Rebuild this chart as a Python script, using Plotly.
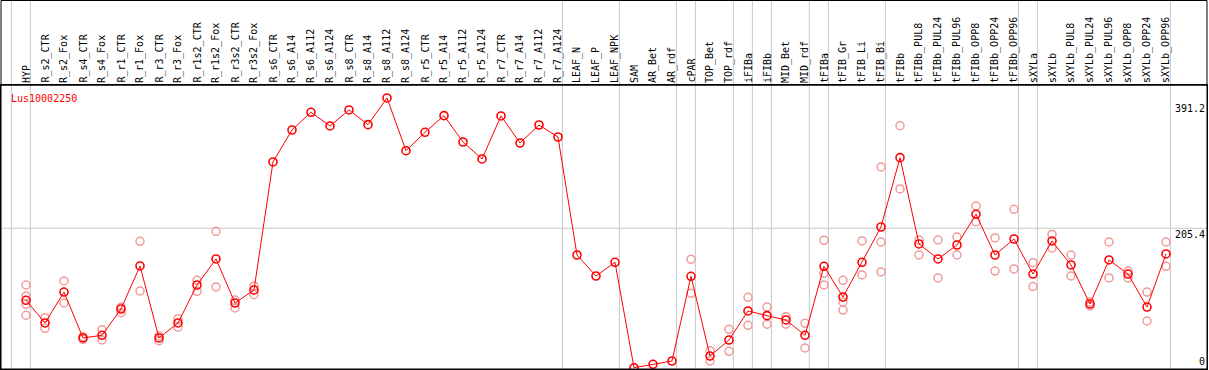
import plotly.graph_objects as go

categories = ["HYP", "R_s2_CTR", "R_s2_Fox", "R_s4_CTR", "R_s4_Fox", "R_r1_CTR", "R_r1_Fox",
              "R_r3_CTR", "R_r3_Fox", "R_r1s2_CTR", "R_r1s2_Fox", "R_r3s2_CTR", "R_r3s2_Fox",
              "R_s6_CTR", "R_s6_A14", "R_s6_A112", "R_s6_A124", "R_s8_CTR", "R_s8_A14",
              "R_s8_A112", "R_s8_A124", "R_r5_CTR", "R_r5_A14", "R_r5_A112", "R_r5_A124",
              "R_r7_CTR", "R_r7_A14", "R_r7_A112", "R_r7_A124", "LEAF_N", "LEAF_P", "LEAF_NPK",
              "SAM", "AR_Bet", "AR_rdf", "cPAR", "TOP_Bet", "TOP_rdf", "iFIBa", "iFIBb",
              "MID_Bet", "MID_rdf", "tFIBa", "tFIB_Gr", "tFIB_Li", "tFIB_Bi", "tFIBb",
              "tFIBb_PUL8", "tFIBb_PUL24", "tFIBb_PUL96", "tFIBb_OPP8", "tFIBb_OPP24",
              "tFIBb_OPP96", "sXYLa", "sXYLb", "sXYLb_PUL8", "sXYLb_PUL24", "sXYLb_PUL96",
              "sXYLb_OPP8", "sXYLb_OPP24", "sXYLb_OPP96"]

mean_values = [99.8, 66.5, 111.9, 44.5, 48.4, 87.0, 150.1, 44.5, 66.5, 122.2, 160.4, 95.8, 114.9,
               302.7, 349.6, 375.6, 355.5, 379.0, 357.4, 396.6, 319.2, 346.2, 370.6, 332.0, 307.1,
               370.2, 330.5, 356.9, 339.3, 166.2, 135.4, 155.5,
               0.9, 5.9, 10.7, 135.0, 18.0, 41.5, 84.1, 77.2, 70.9, 48.4, 149.6, 104.6, 155.5,
               207.3, 309.0, 182.4, 160.4, 180.9, 225.9, 166.2, 189.7, 138.3, 186.8, 151.6,
               94.3, 158.9, 138.3, 89.9, 167.7]

replicate_values = [
    [122.2, 106.1, 93.9, 77.8], [74.2, 58.7], [128.1, 95.8], [46.4, 42.5], [56.6, 41.5],
    [89.5, 81.6], [186.3, 113.4], [47.4, 40.5], [72.8, 60.2], [129.1, 113.0], [201.0, 119.3],
    [100.2, 88.5], [120.7, 108.0],
    [], [], [], [], [], [], [], [], [], [], [], [], [], [], [], [], [], [], [],
    [], [], [], [159.9, 110.0], [25.8, 10.7], [57.2, 24.9], [104.2, 63.1], [89.9, 64.6],
    [75.7, 64.6], [66.0, 29.8], [187.8, 139.4, 122.2], [129.1, 97.3, 85.5], [186.8, 136.9],
    [295.3, 185.3, 141.3], [355.9, 263.1], [188.2, 166.2], [188.2, 132.5], [192.6, 166.2],
    [238.1, 215.1], [191.2, 142.7], [233.3, 145.7], [155.0, 120.0], [196.4, 176.5],
    [166.2, 135.4], [97.3, 91.4], [185.3, 132.5], [142.7, 132.5], [111.9, 69.4], [185.3, 149.6]
]

group_starts = [0, 1, 29, 32, 35, 36, 38, 39, 40, 42, 43, 46, 53, 54, 61]
ytick_values = [0, 205.4, 391.2]
ytick_labels = ["0", "205.4", "391.2"]
gene_name = "Lus10002250"

FONT = "DejaVu Sans Mono"
xs = list(range(len(categories)))

rep_x, rep_y = [], []
for i, reps in enumerate(replicate_values):
    for v in reps:
        rep_x.append(i)
        rep_y.append(v)

fig = go.Figure()
fig.add_trace(go.Scatter(
    x=rep_x, y=rep_y, mode="markers",
    marker=dict(symbol="circle-open", size=8, color="#f19a9a", line=dict(width=1.5, color="#f19a9a")),
    hoverinfo="skip", showlegend=False))
fig.add_trace(go.Scatter(
    x=xs, y=mean_values, mode="lines+markers",
    line=dict(color="#ff0000", width=1),
    marker=dict(symbol="circle-open", size=8, color="#ff0000", line=dict(width=1.6, color="#ff0000")),
    text=categories, showlegend=False))

shapes = []
top_ext = 1 + 85 / 284
shapes.append(dict(type="rect", xref="paper", yref="paper", x0=0, x1=1, y0=0, y1=top_ext - 0.5 / 284,
                   line=dict(color="black", width=1), layer="above"))
shapes.append(dict(type="line", xref="paper", yref="paper", x0=0, x1=1, y0=1, y1=1,
                   line=dict(color="black", width=1.5), layer="above"))
shapes.append(dict(type="line", xref="paper", yref="y", x0=0, x1=1, y0=ytick_values[1], y1=ytick_values[1],
                   line=dict(color="#c8c8c8", width=1), layer="below"))
for s in group_starts:
    shapes.append(dict(type="line", xref="x", yref="paper", x0=s - 0.77, x1=s - 0.77, y0=0, y1=top_ext,
                       line=dict(color="#c8c8c8", width=1), layer="below"))

annotations = []
for i, c in enumerate(categories):
    annotations.append(dict(x=i, y=1, xref="x", yref="paper", text=c, textangle=-90,
                            showarrow=False, xanchor="center", yanchor="bottom", yshift=0,
                            font=dict(family=FONT, size=10, color="black")))
for v, t in zip(ytick_values, ytick_labels):
    annotations.append(dict(x=1, y=v, xref="paper", yref="y", text=t, showarrow=False,
                            xanchor="right", yanchor="bottom" if v == 0 else "top",
                            yshift=-1 if v == 0 else 1,
                            font=dict(family=FONT, size=10, color="black")))
annotations.append(dict(x=0.0066, y=0.979, xref="paper", yref="paper", text=gene_name,
                        showarrow=False, xanchor="left", yanchor="top",
                        font=dict(family=FONT, size=10, color="#ff0000")))

fig.update_layout(
    width=1209, height=370,
    margin=dict(l=1, r=2, t=85, b=1),
    paper_bgcolor="white", plot_bgcolor="white",
    showlegend=False,
    xaxis=dict(range=[-1.316, 62.158], showgrid=False, zeroline=False, showticklabels=False,
               ticks="", showline=True, mirror=True, linecolor="black", linewidth=1),
    yaxis=dict(range=[-1.03, 415.6], showgrid=False, zeroline=False, showticklabels=False,
               ticks="", showline=True, mirror=True, linecolor="black", linewidth=1),
    shapes=shapes, annotations=annotations,
)

fig.write_html("out.html", config={"displayModeBar": False},
               post_script="document.body.style.margin='0';document.body.style.overflow='hidden';")
